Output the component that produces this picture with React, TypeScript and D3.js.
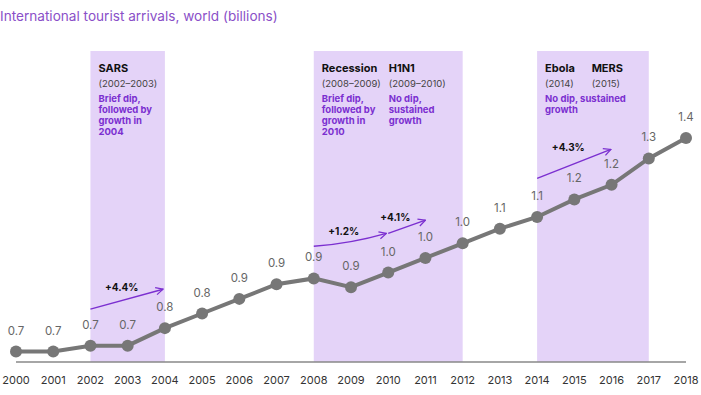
import { useRef, useEffect } from "react";
import * as d3 from "d3";

const years = [
  2000, 2001, 2002, 2003, 2004, 2005, 2006, 2007, 2008, 2009, 2010, 2011,
  2012, 2013, 2014, 2015, 2016, 2017, 2018,
];
const arrivals = [
  0.67, 0.67, 0.69, 0.69, 0.75, 0.8, 0.85, 0.9, 0.92, 0.89, 0.94, 0.99, 1.04,
  1.09, 1.13, 1.19, 1.24, 1.33, 1.4,
];
const valueLabels = [
  "0.7", "0.7", "0.7", "0.7", "0.8", "0.8", "0.9", "0.9", "0.9", "0.9", "1.0",
  "1.0", "1.0", "1.1", "1.1", "1.2", "1.2", "1.3", "1.4",
];

// shaded crisis periods
const bands = [
  { from: 2002, to: 2004 },
  { from: 2008, to: 2012 },
  { from: 2014, to: 2017 },
];

const events = [
  { year: 2002, name: "SARS", span: "(2002–2003)", note: ["Brief dip,", "followed by", "growth in", "2004"] },
  { year: 2008, name: "Recession", span: "(2008–2009)", note: ["Brief dip,", "followed by", "growth in", "2010"] },
  { year: 2009.8, name: "H1N1", span: "(2009–2010)", note: ["No dip,", "sustained", "growth"] },
  { year: 2014, name: "Ebola", span: "(2014)", note: ["No dip, sustained", "growth"] },
  { year: 2015.25, name: "MERS", span: "(2015)", note: [] },
];

// growth arrows: start/end year and height on the value axis
const growth = [
  { label: "+4.4%", x0: 2002, y0: 0.815, x1: 2003.95, y1: 0.883, bend: 0 },
  { label: "+1.2%", x0: 2008, y0: 1.03, x1: 2009.95, y1: 1.074, bend: 4 },
  { label: "+4.1%", x0: 2010, y0: 1.074, x1: 2011, y1: 1.119, bend: 0 },
  { label: "+4.3%", x0: 2014, y0: 1.262, x1: 2015.98, y1: 1.361, bend: 0 },
];

const title = "International tourist arrivals, world (billions)";

const W = 701;
const H = 395;
const FONT = "Inter, 'Open Sans', sans-serif";
const PURPLE = "#7b2fd0";
const GRAY = "#777777";

export default function App() {
  const svgRef = useRef<SVGSVGElement>(null);

  useEffect(() => {
    if (!svgRef.current) return;
    const svg = d3.select(svgRef.current);
    svg.selectAll("*").remove();

    const x = d3.scaleLinear().domain([2000, 2018]).range([16, 686]);
    const y = d3.scaleLinear().domain([0.6, 1.4]).range([372, 138]);
    const baseY = 362;
    const bandTop = 51;

    svg
      .append("defs")
      .append("marker")
      .attr("id", "chev")
      .attr("viewBox", "0 0 10 10")
      .attr("refX", 9)
      .attr("refY", 5)
      .attr("markerWidth", 9)
      .attr("markerHeight", 9)
      .attr("markerUnits", "userSpaceOnUse")
      .attr("orient", "auto")
      .append("path")
      .attr("d", "M1,1 L9,5 L1,9")
      .attr("fill", "none")
      .attr("stroke", PURPLE)
      .attr("stroke-width", 1.4);

    svg
      .selectAll("rect.band")
      .data(bands)
      .join("rect")
      .attr("class", "band")
      .attr("x", (d) => x(d.from))
      .attr("y", bandTop)
      .attr("width", (d) => x(d.to) - x(d.from))
      .attr("height", baseY - bandTop)
      .attr("fill", "#e4d3f8");

    svg
      .append("text")
      .attr("x", 0)
      .attr("y", 21)
      .attr("font-family", FONT)
      .attr("font-size", 13.6)
      .attr("fill", "#8a4fc8")
      .text(title);

    // event annotations
    events.forEach((e) => {
      const tx = x(e.year) + 8;
      const g = svg.append("g").attr("font-family", FONT);
      g.append("text")
        .attr("x", tx)
        .attr("y", 72)
        .attr("font-size", 11)
        .attr("font-weight", 700)
        .attr("fill", "#111")
        .text(e.name);
      g.append("text")
        .attr("x", tx)
        .attr("y", 87)
        .attr("font-size", 9.5)
        .attr("fill", "#444")
        .text(e.span);
      e.note.forEach((line, i) => {
        g.append("text")
          .attr("x", tx)
          .attr("y", 102 + i * 11)
          .attr("font-size", 9.5)
          .attr("font-weight", 700)
          .attr("fill", PURPLE)
          .text(line);
      });
    });

    // baseline
    svg
      .append("line")
      .attr("x1", x(2000))
      .attr("x2", x(2018))
      .attr("y1", baseY)
      .attr("y2", baseY)
      .attr("stroke", "#888")
      .attr("stroke-width", 1.5);

    svg
      .selectAll("text.year")
      .data(years)
      .join("text")
      .attr("class", "year")
      .attr("x", (d) => x(d))
      .attr("y", 384)
      .attr("text-anchor", "middle")
      .attr("font-family", FONT)
      .attr("font-size", 11)
      .attr("fill", "#333")
      .text((d) => String(d));

    // growth arrows
    growth.forEach((a) => {
      const sx = x(a.x0);
      const sy = y(a.y0);
      const ex = x(a.x1);
      const ey = y(a.y1);
      const mx = (sx + ex) / 2;
      const my = (sy + ey) / 2 + a.bend;
      svg
        .append("path")
        .attr("d", `M${sx},${sy} Q${mx},${my} ${ex},${ey}`)
        .attr("fill", "none")
        .attr("stroke", PURPLE)
        .attr("stroke-width", 1.4)
        .attr("marker-end", "url(#chev)");
      const lx = a.label === "+4.1%" ? sx - 8 : sx + (ex - sx) * 0.2;
      const ly = a.label === "+4.1%" ? y(a.y1) + 1 : Math.min(sy, ey) + 2;
      svg
        .append("text")
        .attr("x", lx)
        .attr("y", ly)
        .attr("font-family", FONT)
        .attr("font-size", 10)
        .attr("font-weight", 700)
        .attr("fill", "#111")
        .text(a.label);
    });

    const pts = years.map((yr, i) => [yr, arrivals[i]] as [number, number]);
    const line = d3
      .line<[number, number]>()
      .x((d) => x(d[0]))
      .y((d) => y(d[1]));

    svg
      .append("path")
      .datum(pts)
      .attr("d", line)
      .attr("fill", "none")
      .attr("stroke", GRAY)
      .attr("stroke-width", 4);

    svg
      .selectAll("circle.pt")
      .data(pts)
      .join("circle")
      .attr("class", "pt")
      .attr("cx", (d) => x(d[0]))
      .attr("cy", (d) => y(d[1]))
      .attr("r", 6)
      .attr("fill", GRAY);

    svg
      .selectAll("text.val")
      .data(pts)
      .join("text")
      .attr("class", "val")
      .attr("x", (d) => x(d[0]))
      .attr("y", (d) => y(d[1]) - 17)
      .attr("text-anchor", "middle")
      .attr("font-family", FONT)
      .attr("font-size", 11.5)
      .attr("fill", "#666")
      .text((_, i) => valueLabels[i]);
  }, []);

  return (
    <svg
      ref={svgRef}
      width={W}
      height={H}
      style={{ position: "absolute", left: 0, top: 0, background: "#fff" }}
    />
  );
}
